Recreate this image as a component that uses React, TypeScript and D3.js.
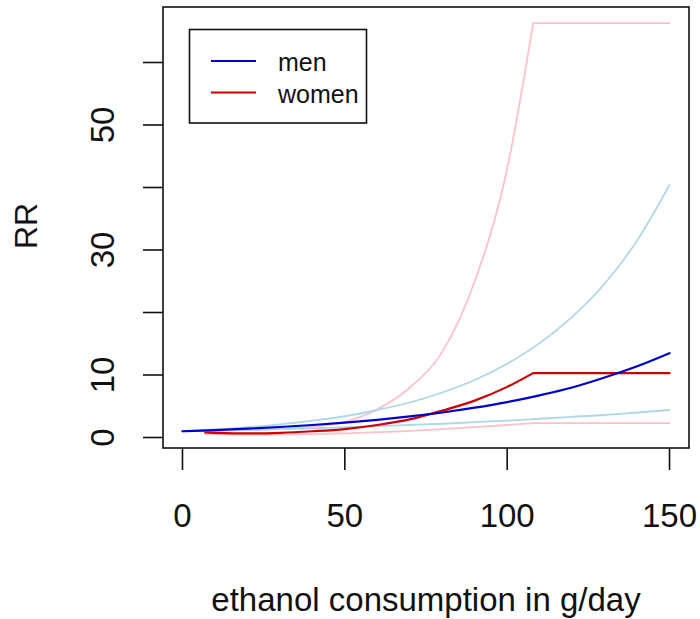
import React from "react";
import * as d3 from "d3";

// ---- data ----
const menX = [0, 10, 20, 30, 40, 50, 60, 70, 80, 90, 100, 110, 120, 130, 140, 150];
const menRR = [1.0, 1.19, 1.41, 1.68, 2.0, 2.38, 2.83, 3.37, 4.0, 4.77, 5.67, 6.75, 8.0, 9.6, 11.4, 13.5];
const menUpper = [1.0, 1.28, 1.64, 2.1, 2.7, 3.4, 4.4, 5.6, 7.2, 9.2, 11.8, 15.1, 19.3, 24.6, 31.5, 40.4];
const menLower = [1.0, 1.1, 1.2, 1.33, 1.48, 1.64, 1.8, 2.0, 2.2, 2.45, 2.7, 3.0, 3.3, 3.6, 4.0, 4.4];

const womenX = [7, 10, 20, 30, 40, 50, 60, 70, 80, 90, 100, 108, 150];
const womenRR = [0.8, 0.75, 0.65, 0.75, 1.0, 1.35, 2.0, 2.9, 4.3, 5.9, 8.1, 10.3, 10.3];
const womenUpper = [1.0, 1.05, 1.2, 1.4, 1.75, 2.5, 4.5, 8.0, 13.7, 25.0, 43.0, 66.3, 66.3];
const womenLower = [0.6, 0.55, 0.45, 0.47, 0.55, 0.65, 0.85, 1.05, 1.35, 1.65, 2.0, 2.3, 2.3];
const womenCapX = 108;

const xTicks = [0, 50, 100, 150];
const yTicks = [0, 10, 20, 30, 40, 50, 60];
const yLabelTicks = [0, 10, 30, 50];
const legendLabels = ["men", "women"];

const xTitle = "ethanol consumption in g/day";
const yTitle = "RR";

// ---- layout ----
const W = 700;
const H = 619;
const box = { left: 163, right: 689, top: 7, bottom: 448 };
const FONT = "'Liberation Sans', Arial, Helvetica, sans-serif";
const COL = {
  men: "#0000CD",
  women: "#CD0000",
  menCI: "#ADD8E6",
  womenCI: "#FFC0CB",
};

export default function App() {
  const x = d3.scaleLinear().domain([-6, 156]).range([box.left, box.right]);
  const y = d3.scaleLinear().domain([-1.68, 68.88]).range([box.bottom, box.top]);

  const smooth = d3
    .line<[number, number]>()
    .x((d) => x(d[0]))
    .y((d) => y(d[1]))
    .curve(d3.curveMonotoneX);
  const straight = d3
    .line<[number, number]>()
    .x((d) => x(d[0]))
    .y((d) => y(d[1]));

  const zip = (xs: number[], ys: number[]) => xs.map((v, i) => [v, ys[i]] as [number, number]);

  const menPath = (ys: number[]) => smooth(zip(menX, ys)) || "";
  const womenPath = (ys: number[]) => {
    const pts = zip(womenX, ys);
    const capIdx = womenX.indexOf(womenCapX);
    const a = smooth(pts.slice(0, capIdx + 1)) || "";
    const b = straight(pts.slice(capIdx)) || "";
    return a + b.replace(/^M/, "L");
  };

  return (
    <svg
      width={W}
      height={H}
      style={{ position: "absolute", left: 0, top: 0, background: "#fff" }}
      fontFamily={FONT}
    >
      <rect x={0} y={0} width={W} height={H} fill="#fff" />
      <g fill="none" strokeLinejoin="round" strokeLinecap="round">
        <path d={womenPath(womenUpper)} stroke={COL.womenCI} strokeWidth={1.8} />
        <path d={womenPath(womenLower)} stroke={COL.womenCI} strokeWidth={1.8} />
        <path d={menPath(menUpper)} stroke={COL.menCI} strokeWidth={1.8} />
        <path d={menPath(menLower)} stroke={COL.menCI} strokeWidth={1.8} />
        <path d={womenPath(womenRR)} stroke={COL.women} strokeWidth={2.2} />
        <path d={menPath(menRR)} stroke={COL.men} strokeWidth={2.2} />
      </g>

      {/* box */}
      <rect
        x={box.left}
        y={box.top}
        width={box.right - box.left}
        height={box.bottom - box.top}
        fill="none"
        stroke="#111"
        strokeWidth={1.6}
      />

      {/* x axis */}
      <g stroke="#111" strokeWidth={1.6}>
        {xTicks.map((t) => (
          <line key={t} x1={x(t)} x2={x(t)} y1={box.bottom} y2={box.bottom + 22} />
        ))}
      </g>
      <g fontSize={33} fill="#111" textAnchor="middle">
        {xTicks.map((t) => (
          <text key={t} x={x(t)} y={527}>
            {String(t)}
          </text>
        ))}
      </g>

      {/* y axis */}
      <g stroke="#111" strokeWidth={1.6}>
        {yTicks.map((t) => (
          <line key={t} x1={box.left - 20} x2={box.left} y1={y(t)} y2={y(t)} />
        ))}
      </g>
      <g fontSize={33} fill="#111" textAnchor="middle">
        {yLabelTicks.map((t) => (
          <text key={t} transform={`translate(113.5,${y(t)}) rotate(-90)`}>
            {String(t)}
          </text>
        ))}
      </g>

      {/* titles */}
      <text x={(box.left + box.right) / 2} y={611} fontSize={33} textAnchor="middle" fill="#111">
        {xTitle}
      </text>
      <text transform={`translate(36.5,226) rotate(-90)`} fontSize={32} textAnchor="middle" fill="#111">
        {yTitle}
      </text>

      {/* legend */}
      <rect x={189.5} y={29.5} width={177} height={93.5} fill="#fff" stroke="#111" strokeWidth={1.6} />
      {legendLabels.map((lab, i) => (
        <g key={lab}>
          <line
            x1={211}
            x2={256}
            y1={61 + i * 31.5}
            y2={61 + i * 31.5}
            stroke={i === 0 ? COL.men : COL.women}
            strokeWidth={2.2}
          />
          <text x={278} y={71 + i * 32} fontSize={25} fill="#111">
            {lab}
          </text>
        </g>
      ))}
    </svg>
  );
}
